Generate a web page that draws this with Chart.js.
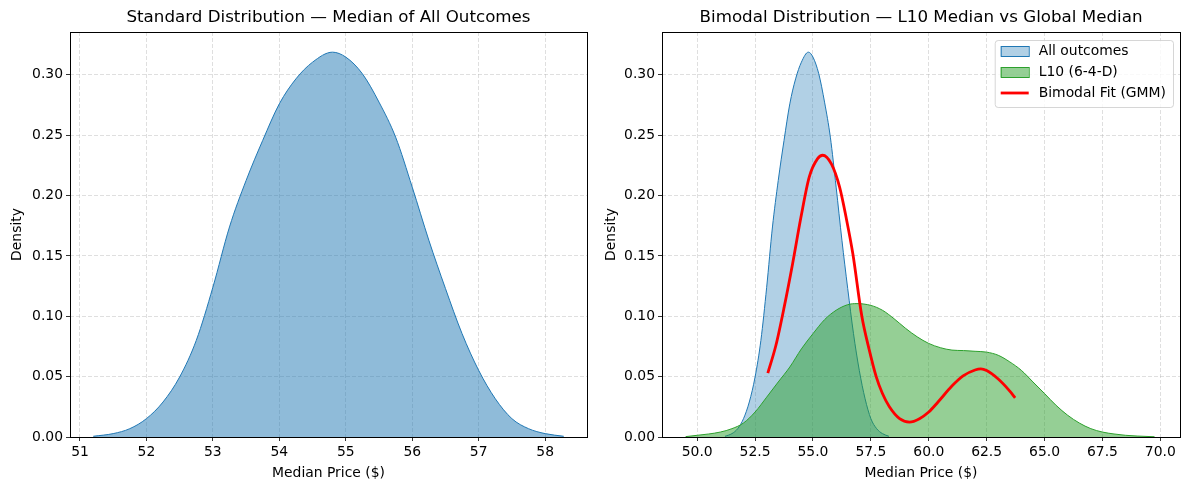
<!DOCTYPE html>
<html>
<head>
<meta charset="utf-8">
<script src="https://cdn.jsdelivr.net/npm/chart.js@4.4.1/dist/chart.umd.min.js"></script>
<style>
html, body { margin: 0; padding: 0; background: #fff; }
#wrap { position: relative; width: 1188px; height: 490px; }
canvas { position: absolute; top: 0; }
#left { left: 0; }
#right { left: 594px; }
</style>
</head>
<body>
<div id="wrap">
    <canvas id="left" width="594" height="490"></canvas>
    <canvas id="right" width="594" height="490"></canvas>
</div>
<script>
// --- Data ---
const allX = [51.2, 51.5, 51.75, 52.0, 52.25, 52.5, 52.75, 53.0, 53.25, 53.5, 53.75, 54.0, 54.25, 54.5, 54.8,
    55.0, 55.25, 55.5, 55.75, 56.0, 56.25, 56.5, 56.75, 57.0, 57.25, 57.5, 57.75, 58.0, 58.28]
const allY = [0.0006, 0.0028, 0.0069, 0.0152, 0.029, 0.0497, 0.080, 0.124, 0.174, 0.2125, 0.2457, 0.276, 0.2967, 0.3105, 0.3188,
    0.3147, 0.3009, 0.2774, 0.2484, 0.207, 0.163, 0.123, 0.0856, 0.0552, 0.0317, 0.0152, 0.0069, 0.0028, 0.0006]

const l10X = [49.5, 50.0, 50.5, 51.0, 51.5, 52.0, 52.5, 53.0, 53.5, 54.0, 54.5, 55.0, 55.5, 56.0, 56.5, 56.9,
    57.5, 58.0, 58.5, 59.0, 59.5, 60.0, 60.5, 61.0, 61.5, 62.0, 62.5, 63.0, 63.5, 64.0, 64.5, 65.0,
    65.5, 66.0, 66.5, 67.0, 67.5, 68.0, 68.5, 69.0, 69.75]
const l10Y = [0.0003, 0.0014, 0.0025, 0.0041, 0.0069, 0.0116, 0.0207, 0.033, 0.0456, 0.058, 0.073, 0.0856, 0.0972, 0.105, 0.1096, 0.1105,
    0.109, 0.105, 0.098, 0.090, 0.083, 0.0775, 0.074, 0.072, 0.0716, 0.071, 0.0703, 0.0677, 0.0622, 0.0552, 0.0456, 0.036,
    0.0262, 0.018, 0.0116, 0.0069, 0.0041, 0.0025, 0.0014, 0.0008, 0.0002]

const gmmX = [53.05, 53.4, 53.76, 54.12, 54.48, 54.84, 55.2, 55.42, 55.8, 56.15, 56.43, 56.72, 57.11, 57.42, 57.73,
    58.0, 58.3, 58.74, 59.17, 59.6, 60.0, 60.4, 61.0, 61.5, 62.0, 62.25, 62.5, 63.0, 63.5, 63.73]
const gmmY = [0.053, 0.076, 0.108, 0.1436, 0.182, 0.2155, 0.2306, 0.2334, 0.226, 0.207, 0.182, 0.152, 0.100, 0.073, 0.050,
    0.036, 0.025, 0.0152, 0.0124, 0.0152, 0.0207, 0.029, 0.0422, 0.0508, 0.0555, 0.0564, 0.055, 0.048, 0.038, 0.0325]

const leftTicksX = [51, 52, 53, 54, 55, 56, 57, 58]
const rightTicksX = [50, 52.5, 55, 57.5, 60, 62.5, 65, 67.5, 70]
const ticksY = [0, 0.05, 0.10, 0.15, 0.20, 0.25, 0.30]

const FONT = 'DejaVu Sans'
Chart.defaults.font.family = FONT
Chart.defaults.color = '#000'

const toPoints = (xs, ys) => xs.map((x, i) => ({ x, y: ys[i] }))

// frame + title drawn around the plot area, like matplotlib axes
const framePlugin = {
    id: 'frame',
    afterDraw(chart, args, opts) {
        const { ctx, chartArea: a } = chart
        ctx.save()
        ctx.strokeStyle = '#000'
        ctx.lineWidth = 1
        ctx.strokeRect(Math.round(a.left) + 0.5, Math.round(a.top) + 0.5,
            Math.round(a.right - a.left), Math.round(a.bottom - a.top))
        ctx.fillStyle = '#000'
        ctx.font = '16.7px ' + FONT
        ctx.textAlign = 'center'
        ctx.textBaseline = 'middle'
        ctx.fillText(opts.title, (a.left + a.right) / 2, 18)
        ctx.restore()
    }
}

// legend inside the plot area, upper right
const innerLegend = {
    id: 'innerLegend',
    afterDraw(chart, args, opts) {
        if (!opts.items) return
        const { ctx, chartArea: a } = chart
        ctx.save()
        ctx.font = '13.9px ' + FONT
        const textW = Math.max(...opts.items.map(it => ctx.measureText(it.label).width))
        const w = 6 + 28 + 10 + textW + 7
        const h = 67
        const left = a.right - 7 - w
        const top = a.top + 8
        ctx.beginPath()
        ctx.roundRect(left + 0.5, top + 0.5, w, h, 3)
        ctx.fillStyle = 'rgba(255,255,255,0.8)'
        ctx.fill()
        ctx.strokeStyle = 'rgba(204,204,204,0.8)'
        ctx.lineWidth = 1
        ctx.stroke()
        opts.items.forEach((it, i) => {
            const cy = top + 11 + i * 21
            const px = left + 6
            if (it.type === 'patch') {
                ctx.fillStyle = it.fill
                ctx.fillRect(px, cy - 5, 28, 10)
                ctx.strokeStyle = it.edge
                ctx.lineWidth = 1
                ctx.strokeRect(px + 0.5, cy - 5 + 0.5, 28, 10)
            } else {
                ctx.strokeStyle = it.edge
                ctx.lineWidth = 2.8
                ctx.beginPath()
                ctx.moveTo(px, cy)
                ctx.lineTo(px + 28, cy)
                ctx.stroke()
            }
            ctx.fillStyle = '#000'
            ctx.textAlign = 'left'
            ctx.textBaseline = 'middle'
            ctx.fillText(it.label, px + 38, cy)
        })
        ctx.restore()
    }
}

function axes(xMin, xMax, xTicks, xFmt, yWidth) {
    const grid = {
        color: 'rgba(176,176,176,0.5)',
        lineWidth: 0.8,
        drawTicks: true,
        tickLength: 4,
        tickColor: '#000',
        tickWidth: 0.8,
        tickBorderDash: []
    }
    // in Chart.js v4 the grid line dash comes from border.dash
    const border = { display: false, dash: [4, 2] }
    return {
        x: {
            type: 'linear', min: xMin, max: xMax,
            grid: grid, border: border,
            afterBuildTicks: s => { s.ticks = xTicks.map(v => ({ value: v })) },
            afterFit: s => { s.height = 53 },
            ticks: { font: { size: 13.9 }, padding: 3, maxRotation: 0, callback: v => xFmt(v) },
            title: { display: true, text: 'Median Price ($)', font: { size: 13.9 }, padding: { top: 2, bottom: 8 } }
        },
        y: {
            type: 'linear', min: 0, max: 0.3355,
            grid: grid, border: border,
            afterBuildTicks: s => { s.ticks = ticksY.map(v => ({ value: v })) },
            afterFit: s => { s.width = yWidth },
            ticks: { font: { size: 13.9 }, padding: 3, callback: v => v.toFixed(2) },
            title: { display: true, text: 'Density', font: { size: 13.9 }, padding: { top: 9, bottom: 2 } }
        }
    }
}

const lineBase = { pointRadius: 0, borderWidth: 1, cubicInterpolationMode: 'monotone', tension: 0.4 }

new Chart(document.getElementById('left'), {
    type: 'line',
    data: {
        datasets: [{
            ...lineBase,
            label: 'All outcomes',
            data: toPoints(allX, allY),
            borderColor: '#1f77b4',
            backgroundColor: 'rgba(31,119,180,0.5)',
            fill: 'origin'
        }]
    },
    options: {
        responsive: false,
        animation: false,
        layout: { padding: { top: 32, right: 7, left: 0, bottom: 0 } },
        plugins: {
            legend: { display: false },
            tooltip: { enabled: false },
            frame: { title: 'Standard Distribution \u2014 Median of All Outcomes' }
        },
        scales: axes(50.85, 58.63, leftTicksX, v => String(v), 70)
    },
    plugins: [framePlugin, innerLegend]
})

new Chart(document.getElementById('right'), {
    type: 'line',
    data: {
        datasets: [{
            ...lineBase,
            label: 'Bimodal Fit (GMM)',
            data: toPoints(gmmX, gmmY),
            borderColor: '#ff0000',
            borderWidth: 2.8,
            fill: false,
            order: 0
        }, {
            ...lineBase,
            label: 'L10 (6-4-D)',
            data: toPoints(l10X, l10Y),
            borderColor: '#2ca02c',
            backgroundColor: 'rgba(44,160,44,0.5)',
            fill: 'origin',
            order: 1
        }, {
            ...lineBase,
            label: 'All outcomes',
            data: toPoints(allX, allY),
            borderColor: '#1f77b4',
            backgroundColor: 'rgba(31,119,180,0.35)',
            fill: 'origin',
            order: 2
        }]
    },
    options: {
        responsive: false,
        animation: false,
        layout: { padding: { top: 32, right: 8, left: 0, bottom: 0 } },
        plugins: {
            legend: { display: false },
            tooltip: { enabled: false },
            frame: { title: 'Bimodal Distribution \u2014 L10 Median vs Global Median' },
            innerLegend: {
                items: [
                    { type: 'patch', label: 'All outcomes', fill: 'rgba(31,119,180,0.35)', edge: '#1f77b4' },
                    { type: 'patch', label: 'L10 (6-4-D)', fill: 'rgba(44,160,44,0.5)', edge: '#2ca02c' },
                    { type: 'line', label: 'Bimodal Fit (GMM)', edge: '#ff0000' }
                ]
            }
        },
        scales: axes(48.48, 70.85, rightTicksX, v => v.toFixed(1), 68)
    },
    plugins: [framePlugin, innerLegend]
})
</script>
</body>
</html>
